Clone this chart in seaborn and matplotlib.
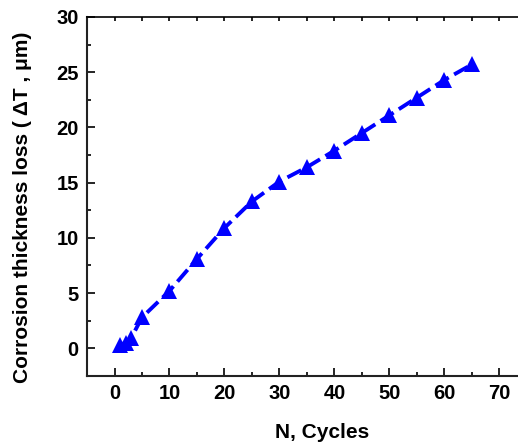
import numpy as np
import matplotlib
matplotlib.use("Agg")
import matplotlib.pyplot as plt
import seaborn as sns
from matplotlib.ticker import MultipleLocator

# date
cycles = [1, 2, 3, 5, 10, 15, 20, 25, 30, 35, 40, 45, 50, 55, 60, 65]
thickness_loss = [0.3, 0.5, 0.9, 2.8, 5.2, 8.1, 10.9, 13.3, 15.1, 16.4,
                  17.9, 19.5, 21.1, 22.7, 24.3, 25.7]

sns.set_style("ticks", {"axes.edgecolor": "black", "text.color": "black",
                        "axes.labelcolor": "black", "xtick.color": "black",
                        "ytick.color": "black"})
plt.rcParams['font.family'] = ['Liberation Sans', 'DejaVu Sans']
plt.rcParams['font.weight'] = 'bold'

fig = plt.figure(figsize=(5.18, 4.47), dpi=100)
ax = fig.add_axes([0.168, 0.159, 0.849, 0.803])

sns.lineplot(x=cycles, y=thickness_loss, ax=ax, color="#0000ff",
             marker="^", markersize=11, markeredgewidth=0,
             linewidth=2.8, linestyle=(0, (4, 1.6)))

ax.set_xlim(-5, 75)
ax.set_ylim(-2.5, 30)
ax.xaxis.set_minor_locator(MultipleLocator(5))
ax.yaxis.set_minor_locator(MultipleLocator(2.5))
ax.set_xticks(range(0, 71, 10))
ax.set_yticks(range(0, 31, 5))

ax.tick_params(axis="both", which="major", direction="in", length=6, width=1.2,
               labelsize=14.5, pad=6, colors="black")
ax.tick_params(axis="both", which="minor", direction="in", length=3, width=1.2,
               colors="black")
ax.tick_params(axis="x", top=True, which="both")
for lbl in ax.get_xticklabels() + ax.get_yticklabels():
    lbl.set_fontweight("bold")

# pe axa de sus tick-urile sunt mici
for t in ax.xaxis.get_major_ticks():
    t.tick2line.set_markersize(3)

ax.spines["right"].set_visible(False)
for s in ["left", "bottom"]:
    ax.spines[s].set_linewidth(1.5)
    ax.spines[s].set_color("#222222")
ax.spines["top"].set_linewidth(1.2)
ax.spines["top"].set_color("black")

ax.set_xlabel("N, Cycles", fontsize=15, fontweight="bold", color="black")
ax.set_ylabel("Corrosion thickness loss ( ΔT , μm)", fontsize=15,
              fontweight="bold", color="black")
ax.xaxis.set_label_coords(0.534, -0.13)
ax.yaxis.set_label_coords(-0.125, 0.469)

fig.savefig("out.png", dpi=100)
